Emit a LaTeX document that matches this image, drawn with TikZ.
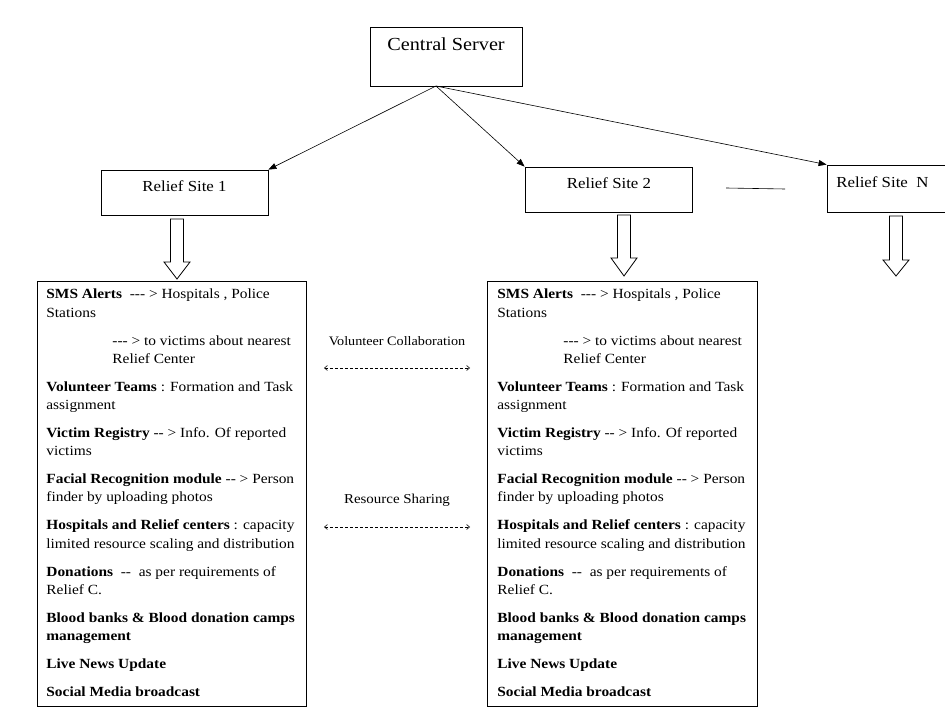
\documentclass[tikz,border=0pt]{standalone}
\usepackage{fontspec}
\setmainfont{Liberation Serif}[FakeStretch=1.1]
\usetikzlibrary{arrows.meta}
\newcommand\hy{{-}}
\newcommand\sitelines[2]{%
 \node[txt] (#2a) at (#1,299) {\textbf{SMS Alerts}\ \ \hy\hy\hy\ > Hospitals , Police};
 \node[txt] (#2b) at (#1,317) {Stations};
 \node[txt] (#2c) at (#1+66,345) {\hy\hy\hy\ > to victims about nearest};
 \node[txt] (#2d) at (#1+66,363) {Relief Center};
 \node[txt] (#2e) at (#1,391) {\textbf{Volunteer Teams} : Formation and Task};
 \node[txt] (#2f) at (#1,409) {assignment};
 \node[txt] (#2g) at (#1,437) {\textbf{Victim Registry} \hy\hy\ > Info. Of reported};
 \node[txt] (#2h) at (#1,455) {victims};
 \node[txt] (#2i) at (#1,483) {\textbf{Facial Recognition module} \hy\hy\ > Person};
 \node[txt] (#2j) at (#1,501) {finder by uploading photos};
 \node[txt] (#2k) at (#1,529) {\textbf{Hospitals and Relief centers} : capacity};
 \node[txt] (#2l) at (#1,548) {limited resource scaling and distribution};
 \node[txt] (#2m) at (#1,576) {\textbf{Donations}\ \ \hy\hy\ \ as per requirements of};
 \node[txt] (#2n) at (#1,594) {Relief C.};
 \node[txt] (#2o) at (#1,622) {\textbf{Blood banks \& Blood donation camps}};
 \node[txt] (#2p) at (#1,640) {\textbf{management}};
 \node[txt] (#2q) at (#1,668) {\textbf{Live News Update}};
 \node[txt] (#2r) at (#1,696) {\textbf{Social Media broadcast}};
}
\begin{document}
\begin{tikzpicture}[x=1pt,y=-1pt,line width=0.8pt,
 box/.style={draw,rectangle,inner sep=0pt},
 conn/.style={-{Triangle[length=8pt,width=6pt]},line width=0.6pt},
 txt/.style={anchor=base west,inner sep=0pt,font=\fontsize{14}{16}\selectfont},
 ttl/.style={inner sep=0pt,font=\fontsize{15.3}{18}\selectfont},
 mid/.style={inner sep=0pt},
 dashar/.style={densely dashed,line width=0.6pt,{Straight Barb[length=3pt,width=5pt]}-{Straight Barb[length=3pt,width=5pt]}},
 blockar/.style={draw,line width=0.8pt,fill=white}]
\useasboundingbox (0,0) rectangle (945,727);
% central server
\node[box,minimum width=152pt,minimum height=59pt] (cs) at (446,56.5) {};
\node[ttl,font=\fontsize{18.4}{21}\selectfont] (cst) at (446,44) {Central Server};
% relief sites
\node[box,minimum width=167pt,minimum height=45pt] (r1) at (184.5,192.5) {};
\node[ttl] (r1t) at (184.5,186) {Relief Site 1};
\node[box,minimum width=167pt,minimum height=45pt] (r2) at (608.5,189.5) {};
\node[ttl] (r2t) at (609,183) {Relief Site 2};
\node[box,minimum width=125pt,minimum height=47pt] (rn) at (889.5,188.5) {};
\node[ttl,anchor=west] (rnt) at (836,182) {Relief Site\ \ N};
\coordinate (dl1) at (726,188);
\coordinate (dl2) at (785,189);
\draw[line width=0.6pt] (dl1) -- (dl2);
% connectors
\coordinate (csb) at (436,86);
\draw[conn] (csb) -- (r1.north east);
\draw[conn] (csb) -- (r2.north west);
\draw[conn] (csb) -- (rn.north west);
% block arrows
\foreach \cx/\top/\shb/\tip/\nm in {177/219/262/279/b1, 624/215/258/276/b2, 896/216/260/276/bn}{
 \draw[blockar] (\cx-6.5,\top) -- (\cx+6.5,\top) -- (\cx+6.5,\shb) -- (\cx+13,\shb) -- (\cx,\tip) -- (\cx-13,\shb) -- (\cx-6.5,\shb) -- cycle;
}
% site boxes
\node[box,minimum width=269pt,minimum height=425pt] (s1) at (171.5,493.5) {};
\node[box,minimum width=270pt,minimum height=425pt] (s2) at (622,493.5) {};
\sitelines{46}{p}
\sitelines{497}{q}
% middle
\node[mid,font=\fontsize{12.9}{15}\selectfont] (vc) at (397,341) {Volunteer Collaboration};
\coordinate (va) at (324,368);
\coordinate (vb) at (470,368);
\draw[dashar] (va) -- (vb);
\node[mid,font=\fontsize{13.6}{16}\selectfont] (rs) at (397,500) {Resource Sharing};
\coordinate (ra) at (324,527);
\coordinate (rb) at (470,527);
\draw[dashar] (ra) -- (rb);
\end{tikzpicture}
\end{document}
